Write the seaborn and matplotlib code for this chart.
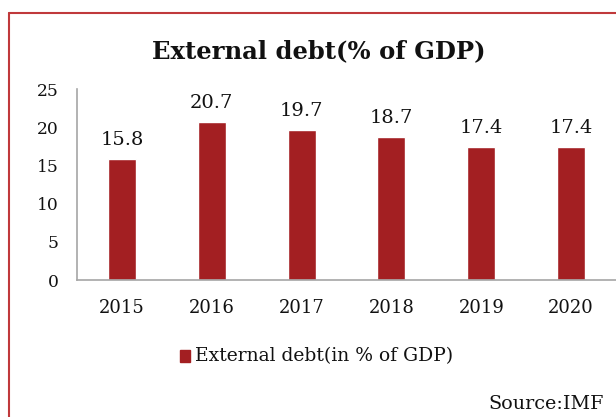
import matplotlib
matplotlib.use("Agg")
import matplotlib.pyplot as plt
import seaborn as sns
import pandas as pd
from matplotlib.patches import Rectangle
from matplotlib.lines import Line2D

years = ["2015", "2016", "2017", "2018", "2019", "2020"]
debt = [15.8, 20.7, 19.7, 18.7, 17.4, 17.4]
yticks = [0, 5, 10, 15, 20, 25]

sns.set_theme(style="white")
plt.rcParams["font.family"] = ["DejaVu Serif"]

bar_color = "#a31f22"
text_color = "#111111"
df = pd.DataFrame({"year": years, "debt": debt})

fig = plt.figure(figsize=(6.16, 4.17), dpi=100)
ax = fig.add_axes([0.125, 0.3285, 0.875, 0.458])
sns.barplot(data=df, x="year", y="debt", color=bar_color, width=0.31,
            saturation=1, ax=ax)

ax.set_ylim(0, 25)
ax.set_yticks(yticks)
ax.set_yticklabels([str(t) for t in yticks], fontsize=12.3)
ax.tick_params(axis="y", length=0, pad=13, labelcolor=text_color)
ax.tick_params(axis="x", length=0, pad=14, labelsize=13, labelcolor=text_color)
ax.set_xlabel("")
ax.set_ylabel("")
for s in ["top", "right"]:
    ax.spines[s].set_visible(False)
for s in ["left", "bottom"]:
    ax.spines[s].set_color("#a6a6a6")
    ax.spines[s].set_linewidth(1.2)

for p, v in zip(ax.patches, debt):
    ax.text(p.get_x() + p.get_width() / 2, v + 1.3, f"{v:.1f}",
            ha="center", va="bottom", fontsize=14, color=text_color)

fig.text(0.518, 0.878, "External debt(% of GDP)", ha="center", va="center",
         fontsize=17.5, fontweight="bold", color=text_color)

# legend entry below the axis
fig.patches.append(Rectangle((180 / 616, 1 - 362 / 417), 10 / 616, 12 / 417,
                             transform=fig.transFigure, color=bar_color))
fig.text(195 / 616, 1 - 356 / 417, "External debt(in % of GDP)", ha="left",
         va="center", fontsize=13.5, color=text_color)

fig.text(604 / 616, 1 - 404 / 417, "Source:IMF", ha="right", va="center",
         fontsize=13.8, color=text_color)

# outer frame
frame_color = "#c0393b"
fig.lines.append(Line2D([9 / 616, 9 / 616], [0, 1 - 13 / 417],
                        transform=fig.transFigure, color=frame_color, lw=1.5))
fig.lines.append(Line2D([9 / 616, 1], [1 - 13 / 417, 1 - 13 / 417],
                        transform=fig.transFigure, color=frame_color, lw=1.5))

fig.savefig("out.png", dpi=100)
